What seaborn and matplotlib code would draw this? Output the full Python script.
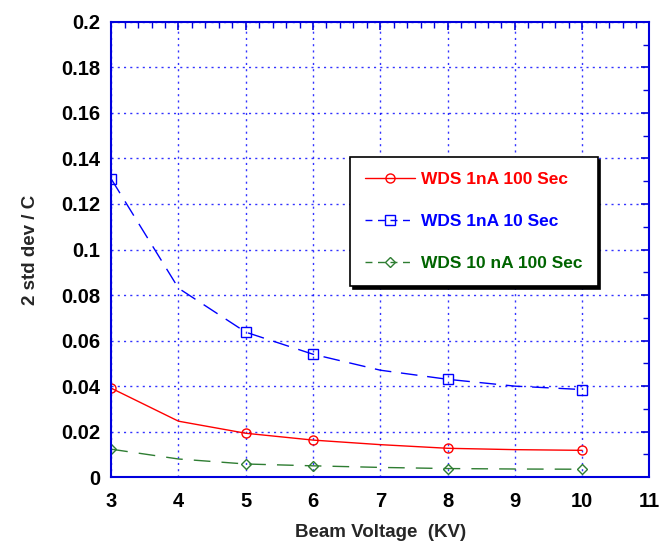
import matplotlib
matplotlib.use("Agg")
import matplotlib.pyplot as plt
import matplotlib.ticker as ticker
from matplotlib.lines import Line2D
import numpy as np
import pandas as pd
import seaborn as sns

# dane
voltage = [3, 4, 5, 6, 7, 8, 9, 10]
wds_1na_100s = [0.0391, 0.0246, 0.0193, 0.0163, 0.0143, 0.0127, 0.0121, 0.0118]
wds_1na_10s = [0.131, 0.083, 0.0637, 0.054, 0.047, 0.043, 0.0400, 0.0385]
wds_10na_100s = [0.0123, 0.0080, 0.0058, 0.0050, 0.0043, 0.0038, 0.0036, 0.0035]
labels = ['WDS 1nA 100 Sec', 'WDS 1nA 10 Sec', 'WDS 10 nA 100 Sec']
marked = [0, 2, 3, 5, 7]   # punkty z markerem (3, 5, 6, 8, 10 kV)

df = pd.DataFrame({'kv': voltage,
                   labels[0]: wds_1na_100s,
                   labels[1]: wds_1na_10s,
                   labels[2]: wds_10na_100s})

sns.set_style('white')
plt.rcParams['font.family'] = ['Liberation Sans', 'DejaVu Sans']
plt.rcParams['font.weight'] = 'bold'

colRed = '#ff0000'
colBlue = '#0000ff'
colGreen = '#006400'
axisBlue = '#0000dd'

# (nazwa, kolor linii, marker, styl linii, kolor tekstu legendy)
styles = [
    (labels[0], colRed, 'o', '-', colRed),
    (labels[1], colBlue, 's', (0, (12, 7)), colBlue),
    (labels[2], '#2e7d32', 'D', (0, (12, 8)), colGreen),
]

fig = plt.figure(figsize=(6.62, 5.46), dpi=100)
ax = fig.add_axes([0.168, 0.126, 0.813, 0.834])

handles = []
for name, col, mk, ls, _ in styles:
    ms = 5.5 if mk == 'D' else 6.5
    sns.lineplot(data=df, x='kv', y=name, ax=ax, color=col, marker=mk, markersize=ms,
                 markerfacecolor='none', markeredgecolor=col, markeredgewidth=1.0,
                 linewidth=1.0, markevery=marked, linestyle=ls)
    hls = '-' if ls == '-' else (0, (5, 4))
    handles.append(Line2D([], [], color=col, marker=mk, markersize=ms, markerfacecolor='none',
                          markeredgecolor=col, linewidth=1.0, linestyle=hls))

# osie
ax.set_xlim(3, 11)
ax.set_ylim(0, 0.2)
ax.xaxis.set_major_locator(ticker.MultipleLocator(1))
ax.xaxis.set_minor_locator(ticker.MultipleLocator(0.2))
ax.yaxis.set_major_locator(ticker.MultipleLocator(0.02))
ax.yaxis.set_minor_locator(ticker.MultipleLocator(0.01))
ax.yaxis.set_major_formatter(ticker.FuncFormatter(lambda v, p: '%g' % round(v, 3)))

ax.tick_params(which='both', direction='in', top=True, right=True, color=axisBlue,
               labelsize=14.5, labelcolor='black')
ax.tick_params(which='major', length=6, width=1.2)
ax.tick_params(which='minor', length=4.5, width=1.0)
ax.tick_params(axis='x', pad=11)
ax.tick_params(axis='y', pad=8)
for lab in ax.get_xticklabels() + ax.get_yticklabels():
    lab.set_fontweight('bold')

for s in ax.spines.values():
    s.set_color(axisBlue)
    s.set_linewidth(1.5)

ax.grid(True, which='major', color=colBlue, linestyle=(0, (1.5, 3)), linewidth=1.0, alpha=0.8)

ax.set_xlabel('Beam Voltage  (KV)', fontsize=13.5, fontweight='bold', labelpad=9)
ax.set_ylabel('2 std dev / C', fontsize=13.5, fontweight='bold', labelpad=16)

leg = ax.legend(handles, labels, loc='upper left', bbox_to_anchor=(0.444, 0.703),
                frameon=True, fancybox=False,
                shadow={'color': 'black', 'alpha': 1.0},
                labelspacing=1.55, handlelength=2.9, handletextpad=0.35,
                borderpad=0.85, borderaxespad=0, prop={'weight': 'bold', 'size': 12.5})
leg.get_frame().set_edgecolor('black')
leg.get_frame().set_linewidth(1.2)
leg.get_frame().set_alpha(1)
for t, st in zip(leg.get_texts(), styles):
    t.set_color(st[4])
    t.set_fontweight('bold')

plt.savefig('out.png', dpi=100)
